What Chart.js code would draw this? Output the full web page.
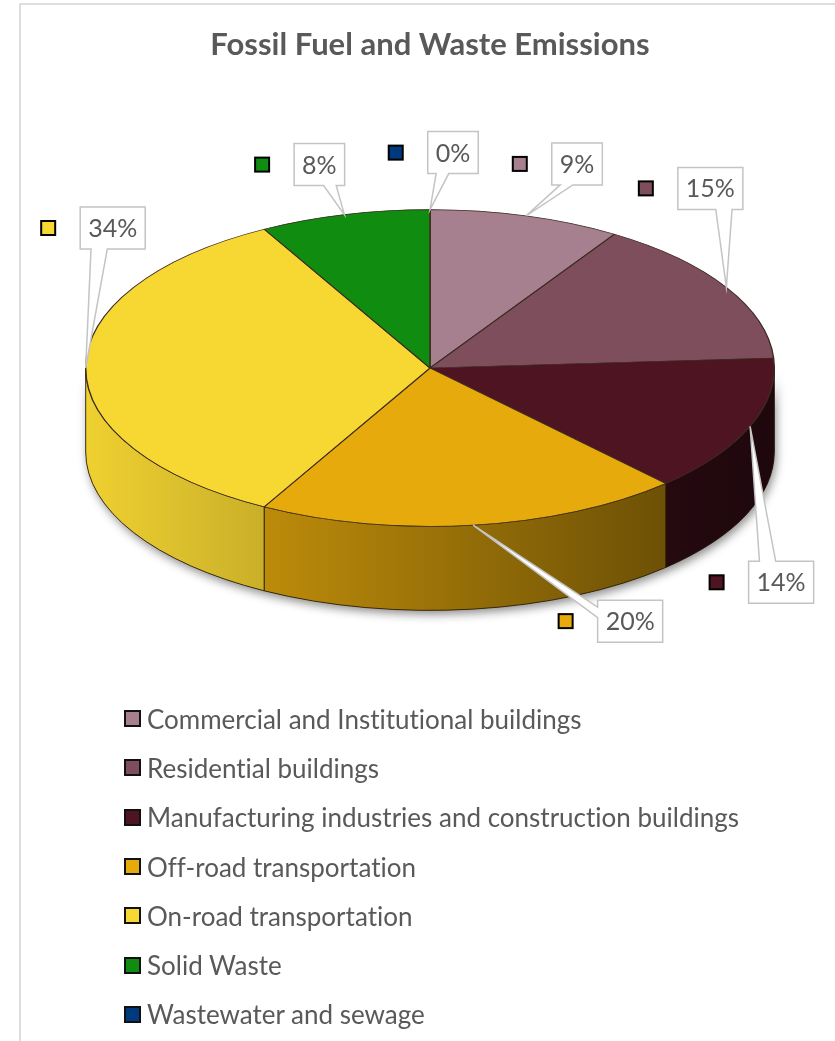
<!DOCTYPE html>
<html>
<head>
<meta charset="utf-8">
<title>Fossil Fuel and Waste Emissions</title>
<script src="https://cdn.jsdelivr.net/npm/chart.js"></script>
<style>
  html, body { margin: 0; padding: 0; background: #fff; overflow: hidden; }
  #wrap { position: relative; width: 835px; height: 1041px; }
  #frame { position: absolute; left: 19px; top: 3px; width: 840px; height: 1060px; border: 2px solid #dedede; box-sizing: border-box; }
  #mycanvas { position: absolute; left: 0; top: 0; }
  #legend { position: absolute; left: 124px; top: 694px; margin: 0; padding: 0; list-style: none;
            font-family: Lato, sans-serif; font-size: 26px; color: #595959; font-variant-ligatures: none; }
  #legend li { display: flex; align-items: center; height: 49.3px; white-space: nowrap; }
  #legend .key { display: inline-block; width: 13px; height: 13px; border: 2px solid #111; margin-right: 6px; }
</style>
</head>
<body>
<div id="wrap">
  <div id="frame"></div>
  <canvas id="mycanvas" width="835" height="1041"></canvas>
  <ul id="legend"></ul>
</div>
<script>
var categories = [
    'Commercial and Institutional buildings',
    'Residential buildings',
    'Manufacturing industries and construction buildings',
    'Off-road transportation',
    'On-road transportation',
    'Solid Waste',
    'Wastewater and sewage'
];
var shares = [9, 15, 14, 20, 34, 8, 0];

var sliceColors = ['#a6808f', '#7f4e5d', '#4e1421', '#e6aa0c', '#f7d732', '#108c10', '#003a7e'];

// where each data label box sits, measured from the edge point of its slice
var labelShift = [[51, -52], [-16, -99], [31, 156], [157, 96], [27, -140], [-25, -50], [23, -57]];

// pie tilt: centre line of the top face, squash factor, thickness
var pieY = 368, tilt = 0.46, depth = 84;

Chart.defaults.font.family = 'Lato';

function sidePath(ctx, cx, rx, ry, a1, a2) {
    ctx.beginPath();
    ctx.ellipse(cx, pieY, rx, ry, 0, a1, a2, false);
    ctx.ellipse(cx, pieY + depth, rx, ry, 0, a2, a1, true);
    ctx.closePath();
}

function calloutPath(ctx, x, y, w, h, tx, ty) {
    var dx = tx - (x + w / 2), dy = ty - (y + h / 2);
    var side;
    if (Math.abs(dx) / w > Math.abs(dy) / h) side = dx < 0 ? 'left' : 'right';
    else side = dy < 0 ? 'top' : 'bottom';
    var fx = dx < 0 ? [1 / 6, 5 / 12] : [7 / 12, 5 / 6];
    var fy = dy < 0 ? [1 / 6, 5 / 12] : [7 / 12, 5 / 6];
    ctx.beginPath();
    ctx.moveTo(x, y);
    if (side == 'top') { ctx.lineTo(x + w * fx[0], y); ctx.lineTo(tx, ty); ctx.lineTo(x + w * fx[1], y); }
    ctx.lineTo(x + w, y);
    if (side == 'right') { ctx.lineTo(x + w, y + h * fy[0]); ctx.lineTo(tx, ty); ctx.lineTo(x + w, y + h * fy[1]); }
    ctx.lineTo(x + w, y + h);
    if (side == 'bottom') { ctx.lineTo(x + w * fx[1], y + h); ctx.lineTo(tx, ty); ctx.lineTo(x + w * fx[0], y + h); }
    ctx.lineTo(x, y + h);
    if (side == 'left') { ctx.lineTo(x, y + h * fy[1]); ctx.lineTo(tx, ty); ctx.lineTo(x, y + h * fy[0]); }
    ctx.closePath();
}

function drawLabels(chart) {
    var ctx = chart.ctx;
    var arcs = chart.getDatasetMeta(0).data;
    var total = shares.reduce(function(s, v) { return s + v; }, 0);
    ctx.save();
    ctx.font = '25px Lato';
    arcs.forEach(function(arc, i) {
        var mid = (arc.startAngle + arc.endAngle) / 2;
        var tipX = arc.x + arc.outerRadius * Math.cos(mid);
        var tipY = pieY + arc.outerRadius * tilt * Math.sin(mid);
        var text = Math.round(shares[i] / total * 100) + '%';
        var w = ctx.measureText(text).width + 16, h = 42;
        var bx = tipX + labelShift[i][0] - w / 2;
        var by = tipY + labelShift[i][1] - h / 2;

        calloutPath(ctx, bx, by, w, h, tipX, tipY);
        ctx.fillStyle = '#fff';
        ctx.fill();
        ctx.strokeStyle = '#c4c4c4';
        ctx.lineWidth = 1.5;
        ctx.stroke();

        ctx.fillStyle = '#595959';
        ctx.textAlign = 'center';
        ctx.textBaseline = 'middle';
        ctx.fillText(text, bx + w / 2, by + h / 2 + 1);

        // legend key next to the label
        ctx.fillStyle = sliceColors[i];
        ctx.fillRect(bx - 39, by + h / 2 - 7, 14, 14);
        ctx.strokeStyle = '#000';
        ctx.lineWidth = 2;
        ctx.strokeRect(bx - 39, by + h / 2 - 7, 14, 14);
    });
    ctx.restore();
}

var pie3d = {
    id: 'pie3d',
    beforeDatasetsDraw: function(chart) {
        var ctx = chart.ctx;
        var arcs = chart.getDatasetMeta(0).data;
        var cx = arcs[0].x, r = arcs[0].outerRadius, ry = r * tilt;

        // soft shadow under the rim
        ctx.save();
        ctx.shadowColor = 'rgba(0,0,0,0.45)';
        ctx.shadowBlur = 10;
        ctx.shadowOffsetX = 2;
        ctx.shadowOffsetY = 4;
        sidePath(ctx, cx, r, ry, 0, Math.PI);
        ctx.fillStyle = '#555';
        ctx.fill();
        ctx.restore();

        // front rim of every slice that faces us
        arcs.forEach(function(arc, i) {
            var a1 = Math.max(arc.startAngle, 0), a2 = Math.min(arc.endAngle, Math.PI);
            if (a2 <= a1) return;
            ctx.save();
            sidePath(ctx, cx, r, ry, a1, a2);
            ctx.fillStyle = sliceColors[i];
            ctx.fill();
            var shade = ctx.createLinearGradient(cx - r, 0, cx + r, 0);
            shade.addColorStop(0, 'rgba(0,0,0,0.03)');
            shade.addColorStop(1, 'rgba(0,0,0,0.62)');
            ctx.fillStyle = shade;
            ctx.fill();
            ctx.strokeStyle = 'rgba(40,25,5,0.85)';
            ctx.lineWidth = 1;
            ctx.stroke();
            ctx.restore();
        });

        // squash the top face into the tilted ellipse
        ctx.save();
        ctx.translate(0, pieY);
        ctx.scale(1, tilt);
        ctx.translate(0, -arcs[0].y);
    },
    afterDatasetsDraw: function(chart) {
        chart.ctx.restore();
        drawLabels(chart);
    }
};

var htmlLegend = {
    id: 'htmlLegend',
    afterUpdate: function(chart) {
        var ul = document.getElementById('legend');
        ul.innerHTML = '';
        chart.options.plugins.legend.labels.generateLabels(chart).forEach(function(item) {
            var li = document.createElement('li');
            var key = document.createElement('span');
            key.className = 'key';
            key.style.background = item.fillStyle;
            li.appendChild(key);
            li.appendChild(document.createTextNode(item.text));
            ul.appendChild(li);
        });
    }
};

var myChart = new Chart(document.getElementById('mycanvas'), {
    type: 'pie',
    data: {
        labels: categories,
        datasets: [{
            data: shares,
            backgroundColor: sliceColors,
            borderColor: '#3a2a20',
            borderWidth: 1.4,
            clip: false
        }]
    },
    options: {
        responsive: false,
        animation: false,
        events: [],
        layout: { padding: { left: 85, right: 60, top: 0, bottom: 250 } },
        plugins: {
            title: {
                display: true,
                text: 'Fossil Fuel and Waste Emissions',
                color: '#595959',
                font: { family: 'Lato', size: 31, weight: 'bold' },
                padding: { top: 26, bottom: 10 }
            },
            legend: { display: false },
            tooltip: { enabled: false }
        }
    },
    plugins: [pie3d, htmlLegend]
});
</script>
</body>
</html>
